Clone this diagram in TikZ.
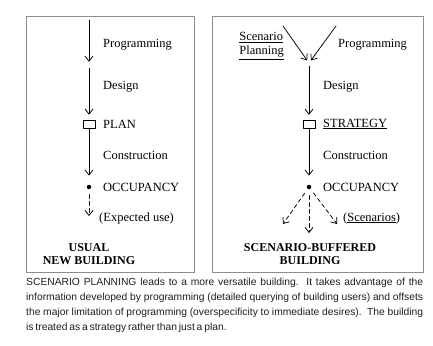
\documentclass[tikz,border=0pt]{standalone}
\usepackage{fontspec}
\setmainfont{Liberation Serif}
\setsansfont{Liberation Sans}
\usepackage{tikz}
\usetikzlibrary{arrows.meta}

\begin{document}
\begin{tikzpicture}[
	x=1pt, y=-1pt,
	font=\fontsize{12.5}{14}\selectfont,
	>={Straight Barb[length=5pt,width=8pt]},
	line cap=round,
	line join=round
	]
	\definecolor{frameGray}{HTML}{8C8C8C}
	\definecolor{capText}{HTML}{1E1E1E}
	
	% Style node
	\tikzset{
		flow/.style={->, draw=black, line width=0.75pt},
		dflow/.style={flow, dash pattern=on 4pt off 3pt},
		lbl/.style={anchor=west, inner sep=0pt},
		plbox/.style={rectangle, draw=black, line width=0.6pt, inner sep=0pt,
			minimum width=12pt, minimum height=8pt},
		occdot/.style={circle, fill=black, inner sep=0pt, minimum size=4.5pt},
		hub/.style={circle, inner sep=0pt, minimum size=6pt},
		ttl/.style={font=\fontsize{12}{13.5}\selectfont\bfseries, align=center, inner sep=0pt},
		frame/.style={draw=frameGray, line width=0.8pt}
	}
	
	\useasboundingbox (0,0) rectangle (433,345);
	
	% ===== frames =====
	\draw[frame] (26,16) rectangle (194,272);
	\draw[frame] (212,16) rectangle (423,272);
	
	% ===== usual new building =====
	\coordinate (Ltop) at (89,20);
	\node[hub] (Lhub) at (89,65) {};
	\node[plbox] (Lplan) at (89,124) {};
	\node[occdot] (Locc) at (89,187) {};
	\coordinate (Luse) at (89,216);
	
	\draw[flow] (Ltop) -- (Lhub);
	\draw[flow, shorten >=5pt] (Lhub) -- (Lplan);
	\draw[flow, shorten >=9pt] (Lplan) -- (Locc);
	\draw[dflow, shorten <=5pt] (Locc) -- (Luse);
	
	\node[lbl] at (103,45) {Programming};
	\node[lbl] at (103,87) {Design};
	\node[lbl] at (103,124) {PLAN};
	\node[lbl] at (103,155) {Construction};
	\node[lbl] at (103,187) {OCCUPANCY};
	\node[lbl] at (99,218) {(Expected use)};
	
	\node[ttl] (Ltitle) at (89,254) {USUAL\\NEW BUILDING};
	
	% ===== scenario-buffered building =====
	\coordinate (Rsp) at (283,26);
	\coordinate (Rpg) at (336,26);
	\node[hub] (Rhub) at (309,63) {};
	\node[plbox] (Rplan) at (309,124) {};
	\node[occdot] (Rocc) at (309,187) {};
	\coordinate (Rsc1) at (283,224);
	\coordinate (Rsc2) at (309,233);
	\coordinate (Rsc3) at (337,224);
	
	\draw[flow] (Rsp) -- (Rhub);
	\draw[flow] (Rpg) -- (Rhub);
	\draw[flow, shorten >=5pt] (Rhub) -- (Rplan);
	\draw[flow, shorten >=9pt] (Rplan) -- (Rocc);
	\draw[dflow, shorten <=5pt] (Rocc) -- (Rsc1);
	\draw[dflow, shorten <=6pt] (Rocc) -- (Rsc2);
	\draw[dflow, shorten <=5pt] (Rocc) -- (Rsc3);
	
	\node[anchor=east, align=left, inner sep=0pt] at (284,46) {\underline{Scenario}\\\underline{Planning}};
	\node[lbl] at (338,45) {Programming};
	\node[lbl] at (323,87) {Design};
	\node[lbl] at (323,124) {\underline{STRATEGY}};
	\node[lbl] at (323,155) {Construction};
	\node[lbl] at (323,187) {OCCUPANCY};
	\node[lbl] at (343,218) {(\underline{Scenarios})};
	
	\node[ttl] (Rtitle) at (310,254) {SCENARIO-BUFFERED\\BUILDING};
	
	% ===== caption =====
	\node[anchor=north west, inner sep=0pt, text width=397pt, align=justify, text=capText,
		font=\sffamily\fontsize{10.3}{15}\selectfont] (cap) at (26,278) {%
		\hyphenpenalty=10000 \spaceskip=0.18em plus 0.6em minus 0.06em
		SCENARIO PLANNING leads to a more versatile building.\ \ It takes advantage of the\linebreak
		information developed by programming (detailed querying of building users) and offsets\linebreak
		the major limitation of programming (overspecificity to immediate desires).\ \ The building\linebreak
		is treated as a strategy rather than just a plan.};
	
\end{tikzpicture}
\end{document}
